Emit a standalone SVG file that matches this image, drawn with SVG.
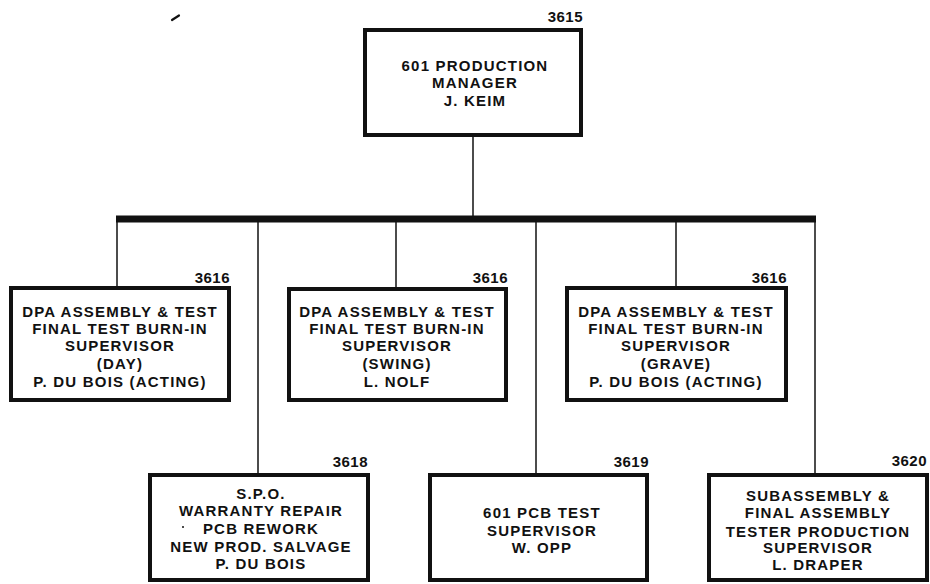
<svg xmlns="http://www.w3.org/2000/svg" width="930" height="584" viewBox="0 0 930 584">
<style>
.box{fill:#fff;stroke:#111;stroke-width:4}
.t{font-family:"Liberation Sans",Arial,sans-serif;font-weight:bold;font-size:15px;letter-spacing:1.2px;fill:#111;text-anchor:middle}
.n{font-family:"Liberation Sans",Arial,sans-serif;font-weight:bold;font-size:15px;letter-spacing:0.5px;fill:#111;text-anchor:end}
.c{stroke:#111;stroke-width:1.5;fill:none}
</style>
<rect width="930" height="584" fill="#fff"/>
<g id="connectors">
<line class="c" x1="473" y1="137" x2="473" y2="219"/>
<line x1="116" y1="219" x2="816" y2="219" stroke="#111" stroke-width="7"/>
<line class="c" x1="117" y1="219" x2="117" y2="288"/>
<line class="c" x1="258" y1="219" x2="258" y2="475"/>
<line class="c" x1="396" y1="219" x2="396" y2="289"/>
<line class="c" x1="536" y1="219" x2="536" y2="475"/>
<line class="c" x1="676" y1="219" x2="676" y2="288"/>
<line class="c" x1="815" y1="219" x2="815" y2="475"/>
</g>
<path d="M172 20 L179 15.5" stroke="#111" stroke-width="2.2" stroke-linecap="round"/>
<g id="n3615">
<rect class="box" x="365" y="30" width="216" height="105"/>
<text class="n" x="583" y="22">3615</text>
<text class="t" x="475" y="71">601 PRODUCTION</text>
<text class="t" x="475" y="88">MANAGER</text>
<text class="t" x="475" y="106">J. KEIM</text>
</g>
<g id="n3616day">
<rect class="box" x="11" y="288" width="218" height="112"/>
<text class="n" x="230" y="283">3616</text>
<text class="t" x="120" y="317">DPA ASSEMBLY &amp; TEST</text>
<text class="t" x="120" y="334">FINAL TEST BURN-IN</text>
<text class="t" x="120" y="351">SUPERVISOR</text>
<text class="t" x="120" y="369">(DAY)</text>
<text class="t" x="120" y="387">P. DU BOIS (ACTING)</text>
</g>
<g id="n3616swing">
<rect class="box" x="289" y="289" width="217" height="111"/>
<text class="n" x="508" y="283">3616</text>
<text class="t" x="397" y="317">DPA ASSEMBLY &amp; TEST</text>
<text class="t" x="397" y="334">FINAL TEST BURN-IN</text>
<text class="t" x="397" y="351">SUPERVISOR</text>
<text class="t" x="397" y="369">(SWING)</text>
<text class="t" x="397" y="387">L. NOLF</text>
</g>
<g id="n3616grave">
<rect class="box" x="567" y="288" width="219" height="112"/>
<text class="n" x="787" y="283">3616</text>
<text class="t" x="676" y="317">DPA ASSEMBLY &amp; TEST</text>
<text class="t" x="676" y="334">FINAL TEST BURN-IN</text>
<text class="t" x="676" y="351">SUPERVISOR</text>
<text class="t" x="676" y="369">(GRAVE)</text>
<text class="t" x="676" y="387">P. DU BOIS (ACTING)</text>
</g>
<g id="n3618">
<rect class="box" x="150" y="475" width="218" height="105"/>
<text class="n" x="368" y="467">3618</text>
<text class="t" x="261" y="499">S.P.O.</text>
<text class="t" x="261" y="516">WARRANTY REPAIR</text>
<text class="t" x="261" y="534">PCB REWORK</text>
<text class="t" x="261" y="552">NEW PROD. SALVAGE</text>
<text class="t" x="261" y="569">P. DU BOIS</text>
<circle cx="183" cy="527" r="1" fill="#111"/>
</g>
<g id="n3619">
<rect class="box" x="430" y="475" width="217" height="105"/>
<text class="n" x="649" y="467">3619</text>
<text class="t" x="542" y="518">601 PCB TEST</text>
<text class="t" x="542" y="536">SUPERVISOR</text>
<text class="t" x="542" y="553">W. OPP</text>
</g>
<g id="n3620">
<rect class="box" x="709" y="475" width="218" height="105"/>
<text class="n" x="927" y="466">3620</text>
<text class="t" x="818" y="501">SUBASSEMBLY &amp;</text>
<text class="t" x="818" y="518">FINAL ASSEMBLY</text>
<text class="t" x="818" y="537">TESTER PRODUCTION</text>
<text class="t" x="818" y="553">SUPERVISOR</text>
<text class="t" x="818" y="570">L. DRAPER</text>
</g>
</svg>
